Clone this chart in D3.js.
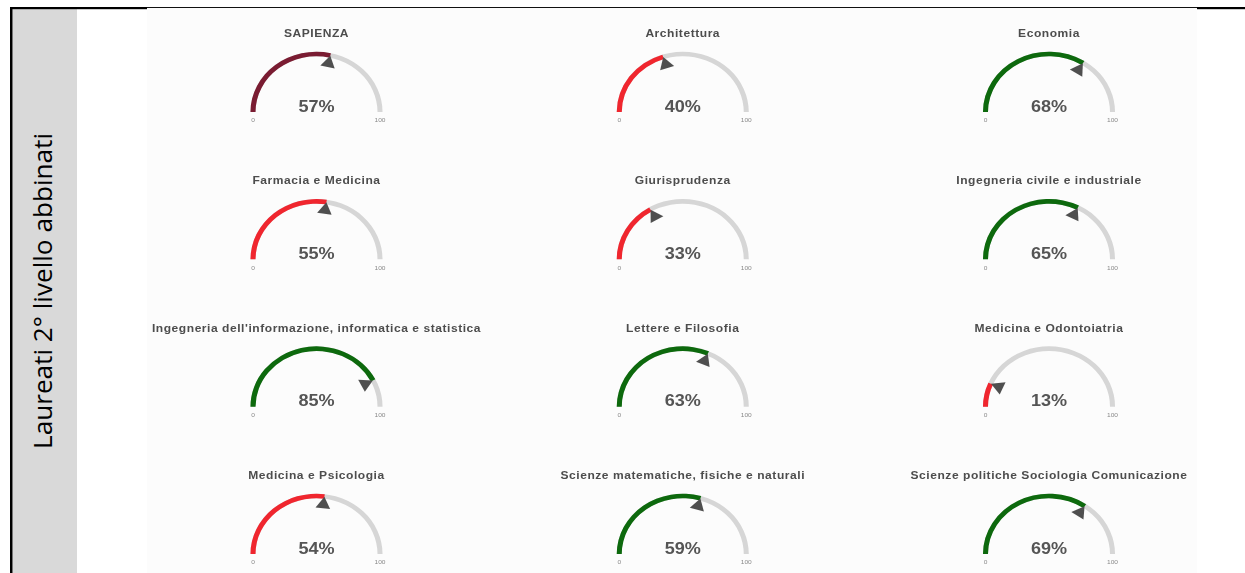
<!DOCTYPE html>
<html>
<head>
<meta charset="utf-8">
<script src="https://cdn.jsdelivr.net/npm/d3@7"></script>
<style>
  html, body { margin: 0; padding: 0; background: #ffffff; }
  svg { display: block; }
</style>
</head>
<body>
<svg id="chart" width="1245" height="573"></svg>
<script>
// Share of matched second-level graduates, by faculty (percent)
const faculties = [
  "SAPIENZA",
  "Architettura",
  "Economia",
  "Farmacia e Medicina",
  "Giurisprudenza",
  "Ingegneria civile e industriale",
  "Ingegneria dell'informazione, informatica e statistica",
  "Lettere e Filosofia",
  "Medicina e Odontoiatria",
  "Medicina e Psicologia",
  "Scienze matematiche, fisiche e naturali",
  "Scienze politiche Sociologia Comunicazione"
];
const shares = [57, 40, 68, 55, 33, 65, 85, 63, 13, 54, 59, 69];
const gaugeTicks = [0, 100];
const rowLabel = "Laureati 2° livello abbinati";

const W = 1245, H = 573;
const svg = d3.select("#chart");

// ---- table frame ----
const frame = svg.append("g");
frame.append("rect").attr("x", 147).attr("y", 8).attr("width", 1050).attr("height", H - 8).attr("fill", "#fcfcfc");
frame.append("rect").attr("x", 12.5).attr("y", 9).attr("width", 64.5).attr("height", H - 9).attr("fill", "#d9d9d9");
frame.append("rect").attr("x", 10).attr("y", 7).attr("width", 137).attr("height", 2.2).attr("fill", "#000");
frame.append("rect").attr("x", 147).attr("y", 7).attr("width", 1050).attr("height", 1).attr("fill", "#111");
frame.append("rect").attr("x", 1197).attr("y", 7).attr("width", 48).attr("height", 2.2).attr("fill", "#000");
frame.append("rect").attr("x", 10).attr("y", 7).attr("width", 2.5).attr("height", H - 7).attr("fill", "#000");

frame.append("text")
  .attr("transform", "translate(52,291) rotate(-90)")
  .attr("text-anchor", "middle")
  .attr("font-family", "'Open Sans', 'DejaVu Sans', sans-serif")
  .attr("font-size", 25)
  .attr("fill", "#000")
  .attr("textLength", 316)
  .attr("lengthAdjust", "spacingAndGlyphs")
  .text(rowLabel);

// ---- gauges ----
const defs = svg.append("defs");
defs.append("filter").attr("id", "soft")
  .attr("x", "-5%").attr("y", "-5%").attr("width", "110%").attr("height", "110%")
  .append("feGaussianBlur").attr("stdDeviation", 0.55);

const R = 58, band = 4.6, stretchX = 1.095;
const colX = d3.scaleLinear().domain([0, 2]).range([316.5, 1049]);
const rowY = d3.scaleLinear().domain([0, 3]).range([112, 554]);
const angle = d3.scaleLinear().domain([gaugeTicks[0], gaugeTicks[1]]).range([-Math.PI / 2, Math.PI / 2]);

const reference = shares[0];
const colour = (v, i) => i === 0 ? "#7a1b30" : (v < reference ? "#f0252f" : "#0a690b");

const arc = d3.arc().innerRadius(R - band / 2).outerRadius(R + band / 2);
const pointer = d3.symbol().type(d3.symbolTriangle).size(78);

const gauges = svg.append("g").attr("filter", "url(#soft)")
  .selectAll("g.gauge")
  .data(faculties.map((name, i) => ({ name, value: shares[i], i })))
  .join("g")
  .attr("class", "gauge")
  .attr("transform", d => `translate(${colX(d.i % 3)},${rowY(Math.floor(d.i / 3))}) scale(${stretchX},1)`);

gauges.append("path")
  .attr("d", arc({ startAngle: angle(gaugeTicks[0]), endAngle: angle(gaugeTicks[1]) }))
  .attr("fill", "#d6d6d6");

gauges.append("path")
  .attr("d", d => arc({ startAngle: angle(gaugeTicks[0]), endAngle: angle(d.value) }))
  .attr("fill", d => colour(d.value, d.i));

gauges.append("path")
  .attr("d", pointer())
  .attr("transform", d => {
    const a = angle(d.value), rr = R - 8;
    return `translate(${rr * Math.sin(a)},${-rr * Math.cos(a)}) rotate(${a * 180 / Math.PI})`;
  })
  .attr("fill", "#505050");

gauges.append("text")
  .attr("y", -75)
  .attr("text-anchor", "middle")
  .attr("font-family", "'Liberation Sans', Arial, sans-serif")
  .attr("font-weight", "bold")
  .attr("font-size", 11)
  .attr("letter-spacing", 0.5)
  .attr("fill", "#4d4d4d")
  .text(d => d.name);

gauges.append("text")
  .attr("y", -0.5)
  .attr("text-anchor", "middle")
  .attr("font-family", "'Liberation Sans', Arial, sans-serif")
  .attr("font-weight", "bold")
  .attr("font-size", 16.5)
  .attr("fill", "#545454")
  .text(d => d.value + "%");

gauges.selectAll("text.tick")
  .data(gaugeTicks)
  .join("text")
  .attr("class", "tick")
  .attr("x", t => R * Math.sin(angle(t)))
  .attr("y", 10.5)
  .attr("text-anchor", "middle")
  .attr("font-family", "'Liberation Sans', Arial, sans-serif")
  .attr("font-size", 6)
  .attr("fill", "#888")
  .text(t => t);
</script>
</body>
</html>
